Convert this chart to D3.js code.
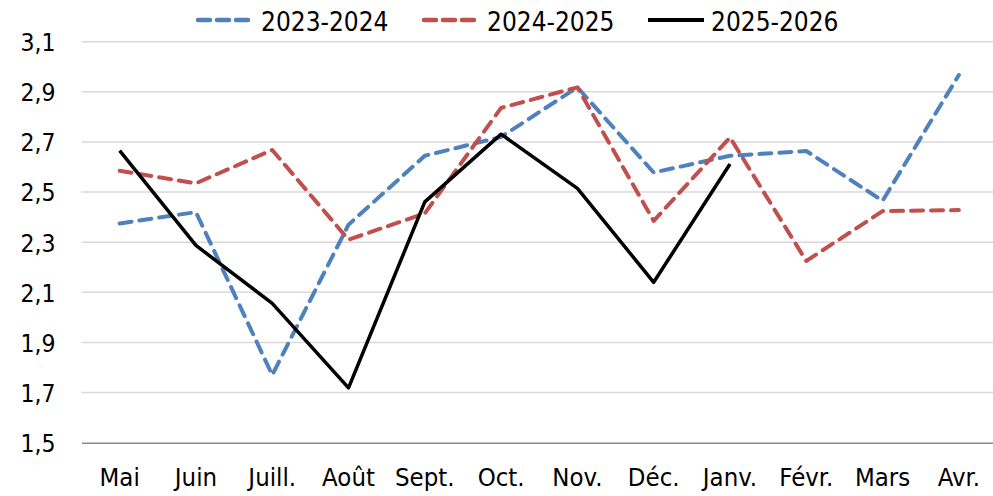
<!DOCTYPE html>
<html lang="fr">
<head>
<meta charset="utf-8">
<script src="https://d3js.org/d3.v7.min.js"></script>
<style>
  body { margin: 0; background: #fff; }
  svg text { font-family: "DejaVu Sans Condensed", "DejaVu Sans", sans-serif; font-stretch: condensed; fill: #000; }
</style>
</head>
<body>
<svg id="chart" width="993" height="496"></svg>
<script>
const months = ['Mai', 'Juin', 'Juill.', 'Août', 'Sept.', 'Oct.', 'Nov.', 'Déc.', 'Janv.', 'Févr.', 'Mars', 'Avr.'];
const s2023 = [2.375, 2.42, 1.77, 2.37, 2.645, 2.72, 2.918, 2.578, 2.645, 2.664, 2.465, 2.967];
const s2024 = [2.585, 2.535, 2.668, 2.31, 2.415, 2.836, 2.918, 2.385, 2.718, 2.225, 2.424, 2.428];
const s2025 = [2.665, 2.287, 2.056, 1.719, 2.461, 2.731, 2.515, 2.14, 2.612];
const yTicks = [1.5, 1.7, 1.9, 2.1, 2.3, 2.5, 2.7, 2.9, 3.1];

const series = [
  { name: '2023-2024', values: s2023, color: '#4f81bd', dash: '12,8', width: 4 },
  { name: '2024-2025', values: s2024, color: '#c0504d', dash: '12,8', width: 4 },
  { name: '2025-2026', values: s2025, color: '#000000', dash: null, width: 3.5 }
];

const svg = d3.select('#chart');
const plotLeft = 81.5, plotRight = 997, plotTop = 41.7, plotBottom = 442.7;

const x = d3.scaleBand().domain(months).range([plotLeft, plotRight]);
const y = d3.scaleLinear().domain([1.5, 3.1]).range([plotBottom, plotTop]);

// gridlines
svg.append('g').selectAll('line')
  .data(yTicks.slice(1))
  .join('line')
  .attr('x1', plotLeft).attr('x2', plotRight)
  .attr('y1', d => y(d)).attr('y2', d => y(d))
  .attr('stroke', '#d9d9d9').attr('stroke-width', 1.5);

// y axis labels
const fmt = d => d3.format('.1f')(d).replace('.', ',');
const yAxis = d3.axisLeft(y).tickValues(yTicks).tickFormat(fmt).tickSize(0).tickPadding(26);
const yg = svg.append('g').attr('transform', `translate(${plotLeft},0)`).call(yAxis);
yg.select('.domain').remove();
yg.selectAll('text').attr('font-size', 24.5).attr('dy', '0.36em')
  .style('font-family', '"DejaVu Sans Condensed", "DejaVu Sans", sans-serif');

// x axis
const xAxis = d3.axisBottom(x).tickSize(0).tickPadding(25);
const xg = svg.append('g').attr('transform', `translate(0,${plotBottom})`).call(xAxis);
xg.select('.domain').attr('stroke', '#898989').attr('stroke-width', 1.5);
xg.selectAll('text').attr('font-size', 25.5)
  .style('font-family', '"DejaVu Sans Condensed", "DejaVu Sans", sans-serif');

// lines
const line = d3.line()
  .x((d, i) => x(months[i]) + x.bandwidth() / 2)
  .y(d => y(d));

svg.append('g').selectAll('path')
  .data(series)
  .join('path')
  .attr('d', d => line(d.values))
  .attr('fill', 'none')
  .attr('stroke', d => d.color)
  .attr('stroke-width', d => d.width)
  .attr('stroke-dasharray', d => d.dash)
  .attr('stroke-linecap', d => d.dash ? 'round' : 'butt')
  .attr('stroke-linejoin', 'round');

// legend
const legendX = [198, 424, 648];
const lg = svg.append('g').selectAll('g')
  .data(series)
  .join('g')
  .attr('transform', (d, i) => `translate(${legendX[i]},20)`);
lg.append('line')
  .attr('x1', 0).attr('x2', d => d.dash ? 52 : 56)
  .attr('y1', 0).attr('y2', 0)
  .attr('stroke', d => d.color)
  .attr('stroke-width', d => d.width + 0.5)
  .attr('stroke-dasharray', d => d.dash ? '12,7' : null)
  .attr('stroke-linecap', d => d.dash ? 'round' : 'butt');
lg.append('text')
  .attr('x', 63).attr('y', 10.5)
  .attr('font-size', 26)
  .text(d => d.name);
</script>
</body>
</html>
